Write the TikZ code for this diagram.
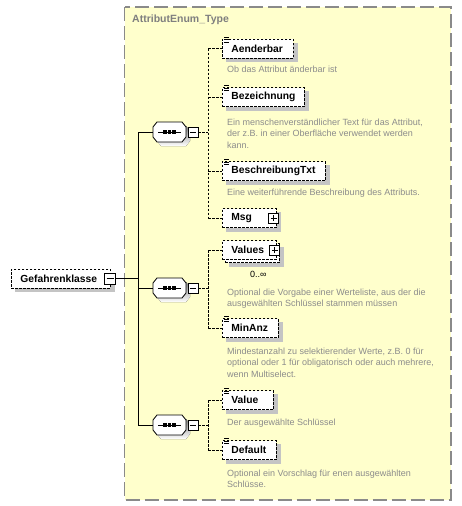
\documentclass[tikz,border=0pt]{standalone}
\usepackage{fontspec}
\setmainfont{Liberation Sans}
\pgfdeclarelayer{bg}
\pgfdeclarelayer{shadowlayer}
\pgfsetlayers{bg,shadowlayer,main}
\definecolor{bgyellow}{HTML}{FFFFCC}
\definecolor{framegray}{HTML}{8A8A8A}
\definecolor{descgray}{HTML}{8C8C8C}
\definecolor{titlegray}{HTML}{7F7F7F}
\definecolor{shade}{HTML}{C4C4C4}
\newcommand\seqshape[2]{%
  \begin{scope}[shift={(#1,#2)}]
    \fill[shade,shift={(4,4)}] (-16.5,-5) -- (-12.5,-10) -- (12.5,-10) -- (16.5,-5) -- (16.5,5) -- (12.5,10) -- (-12.5,10) -- (-16.5,5) -- cycle;
    \filldraw[fill=white,draw=black,line width=0.8pt] (-16.5,-5) -- (-12.5,-10) -- (12.5,-10) -- (16.5,-5) -- (16.5,5) -- (12.5,10) -- (-12.5,10) -- (-16.5,5) -- cycle;
    \draw[line width=0.8pt] (-11.5,0) -- (11.5,0);
    \foreach \dx in {-4.5,0,4.5} \fill (\dx-1.6,-1.6) rectangle (\dx+1.6,1.6);
  \end{scope}}
\begin{document}
\begin{tikzpicture}[x=1pt,y=-1pt,
  every node/.style={inner sep=0pt},
  elem/.style={draw,line width=0.8pt,dash pattern=on 2.5pt off 1.5pt,fill=white,anchor=west,
    minimum height=19pt,inner xsep=9pt,text width=#1,align=left,
    font=\bfseries\fontsize{10.3}{12}\selectfont},
  elemback/.style={draw,line width=0.8pt,dash pattern=on 2.5pt off 1.5pt,fill=white,anchor=west,
    minimum height=19pt,minimum width=#1},
  desc/.style={anchor=base west,align=left,text=descgray,font=\fontsize{9}{11.5}\selectfont},
  seqnode/.style={minimum width=33pt,minimum height=20pt},
  minusbox/.style={draw,line width=0.8pt,fill=white,minimum size=10pt,
    path picture={\draw[line width=0.8pt] ([xshift=2pt]path picture bounding box.west) -- ([xshift=-2pt]path picture bounding box.east);}},
  plusbox/.style={draw,line width=0.8pt,fill=white,minimum size=10pt,
    path picture={\draw[line width=0.8pt] ([xshift=2pt]path picture bounding box.west) -- ([xshift=-2pt]path picture bounding box.east);
      \draw[line width=0.8pt] ([yshift=2pt]path picture bounding box.south) -- ([yshift=-2pt]path picture bounding box.north);}},
  conn/.style={line width=0.8pt},
  dconn/.style={line width=0.8pt,dash pattern=on 2.5pt off 1.5pt},
  icon/.style={line width=0.7pt},
  shadowfill/.style={fill=shade}
]
\useasboundingbox (0,0) rectangle (462,506);
% frame
\begin{pgfonlayer}{bg}
\draw[fill=bgyellow,draw=framegray,line width=1.3pt,dash pattern=on 14pt off 5pt] (124.5,7) rectangle (451,500);
\end{pgfonlayer}
\node[anchor=base west,text=titlegray,font=\bfseries\fontsize{10.5}{12}\selectfont] (title) at (132,22) {AttributEnum\_Type};

% root element
\node[elem=81] (gef) at (11,278.5) {Gefahrenklasse};
\node[minusbox,minimum size=11pt] (gefm) at (110,278.5) {};

% compositors
\seqshape{169.5}{132}
\node[seqnode] (seq1) at (169.5,132) {};
\node[minusbox] (seq1m) at (193,132) {};
\seqshape{169.5}{288}
\node[seqnode] (seq2) at (169.5,288) {};
\node[minusbox] (seq2m) at (193,288) {};
\seqshape{169.5}{425}
\node[seqnode] (seq3) at (169.5,425) {};
\node[minusbox] (seq3m) at (193,425) {};

% elements group 1
\node[elem=53] (aend) at (222,48.5) {Aenderbar};
\node[desc] (aendd) at (227,72) {Ob das Attribut änderbar ist};
\node[elem=64] (bez) at (222,97) {Bezeichnung};
\node[desc] (bezd) at (227,148) {Ein menschenverständlicher Text für das Attribut,\\der z.B. in einer Oberfläche verwendet werden\\kann.};
\node[elem=85] (besch) at (222,171) {BeschreibungTxt};
\node[desc] (beschd) at (227,195) {Eine weiterführende Beschreibung des Attributs.};
\node[elem=36] (msg) at (222,218) {Msg};
\node[plusbox] (msgp) at ([xshift=-3pt]msg.east) {};

% elements group 2
\node[elemback=54] (valback) at (225,253) {};
\node[elem=36] (values) at (222,250) {Values};
\node[plusbox] (valp) at ([xshift=-2pt]values.east) {};
\node[anchor=base west,font=\fontsize{9}{11}\selectfont] (valocc) at (250,277) {0..∞};
\node[desc] (valuesd) at (227,306.5) {Optional die Vorgabe einer Werteliste, aus der die\\ausgewählten Schlüssel stammen müssen};
\node[elem=38] (minanz) at (222,328) {MinAnz};
\node[desc] (minanzd) at (227,377) {Mindestanzahl zu selektierender Werte, z.B. 0 für\\optional oder 1 für obligatorisch oder auch mehrere,\\wenn Multiselect.};

% elements group 3
\node[elem=33] (value) at (222,400) {Value};
\node[desc] (valued) at (227,425) {Der ausgewählte Schlüssel};
\node[elem=36] (default) at (222,450) {Default};
\node[desc] (defaultd) at (227,487.5) {Optional ein Vorschlag für enen ausgewählten\\Schlüsse.};

% shadows
\begin{pgfonlayer}{shadowlayer}
\foreach \n in {gef,aend,bez,besch,msg,valback,minanz,value,default}
  \fill[shadowfill] ([shift={(4,4)}]\n.north west) rectangle ([shift={(4,4)}]\n.south east);
\end{pgfonlayer}

% doc icons
\foreach \n in {aend,bez,besch,minanz,value,default}{
  \foreach \k in {-1.5,1,3.5}
    \draw[icon] ([shift={(2,\k)}]\n.north west) -- ++(5,0);
}

% solid connectors
\coordinate (trunk) at (138,0);
\draw[conn] (gefm.east) -- (gefm.east -| trunk);
\draw[conn] (seq1.west -| trunk) -- (seq3.west -| trunk);
\draw[conn] (seq1.west -| trunk) -- (seq1.west);
\draw[conn] (seq2.west -| trunk) -- (seq2.west);
\draw[conn] (seq3.west -| trunk) -- (seq3.west);

% dashed connectors
\coordinate (bus) at (208,0);
\draw[dconn] (seq1m.east) -- (seq1m.east -| bus);
\draw[dconn] (aend.west -| bus) -- (msg.west -| bus);
\foreach \n in {aend,bez,besch,msg} \draw[dconn] (\n.west -| bus) -- (\n.west);
\draw[dconn] (seq2m.east) -- (seq2m.east -| bus);
\draw[dconn] (values.west -| bus) -- (minanz.west -| bus);
\foreach \n in {values,minanz} \draw[dconn] (\n.west -| bus) -- (\n.west);
\draw[dconn] (seq3m.east) -- (seq3m.east -| bus);
\draw[dconn] (value.west -| bus) -- (default.west -| bus);
\foreach \n in {value,default} \draw[dconn] (\n.west -| bus) -- (\n.west);
\end{tikzpicture}
\end{document}
